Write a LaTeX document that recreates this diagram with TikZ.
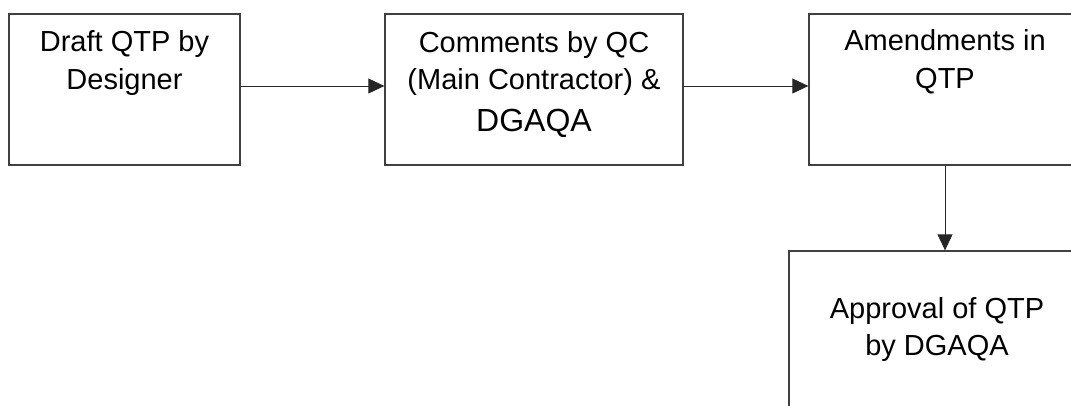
\documentclass[tikz,border=0pt]{standalone}
\usepackage{fontspec}
\setmainfont{Liberation Sans}
\usepackage{tikz}
\usetikzlibrary{calc,arrows.meta}
\tikzstyle{flow}=[
  >={Triangle[length=16bp,width=15bp]},font=\fontsize{29bp}{37.5bp}\selectfont
]
\tikzstyle{stepbox}=[
  draw=black!75,line width=1.3bp,rectangle,inner sep=0pt,fill=white,minimum height=151bp
]
\tikzstyle{steptext}=[
  align=center,inner sep=0pt,anchor=north
]
\tikzstyle{flowedge}=[
  ->,draw=black!85,line width=0.9bp
]

\begin{document}
\begin{tikzpicture}[flow]

    \useasboundingbox (0bp,0bp) rectangle (1071bp,-406bp);
    \clip (0bp,0bp) rectangle (1071bp,-406bp);

    \node (draft) at (124.5bp,-89.5bp) [stepbox,minimum width=231bp] {};
    \node (comments) at (534bp,-89.5bp) [stepbox,minimum width=298bp] {};
    \node (amend) at (945bp,-89.5bp) [stepbox,minimum width=272bp] {};
    \node (approval) at (937bp,-329.5bp) [stepbox,align=center,minimum width=296bp,minimum height=157bp]
      {Approval of QTP\\by DGAQA};

    % texts sit at the top of the first three boxes
    \node (drafttext) at ($(draft.north) + (0bp,-17bp)$) [steptext] {Draft QTP by\\Designer};
    \node (commentstext) at ($(comments.north) + (0bp,-17.5bp)$) [steptext]
      {Comments by QC\\(Main Contractor) \&\\[4.5bp]{\fontsize{32bp}{37.5bp}\selectfont DGAQA}};
    \node (amendtext) at ($(amend.north) + (0bp,-16bp)$) [steptext] {Amendments in\\QTP};

    \draw [flowedge] ([yshift=3.5bp]draft.east) -- ([yshift=3.5bp]comments.west);
    \draw [flowedge] ([yshift=3.5bp]comments.east) -- ([yshift=3.5bp]amend.west);
    \draw [flowedge] (amend.south) -- (amend.south |- approval.north);

\end{tikzpicture}
\end{document}
